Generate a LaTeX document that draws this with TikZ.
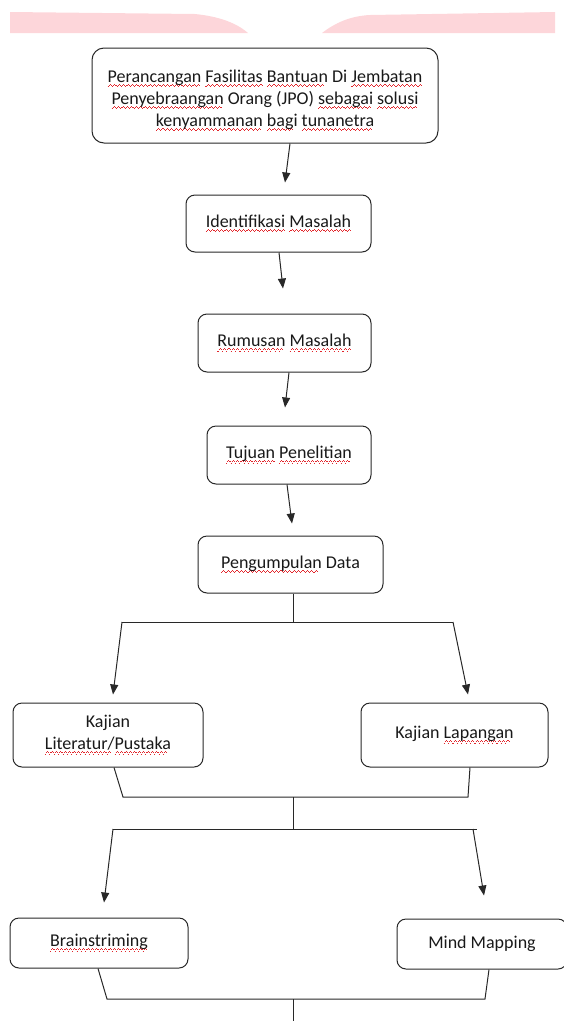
\documentclass[tikz,border=0pt]{standalone}
\usepackage{fontspec}
\setmainfont{Carlito}
\usepackage{xcolor}
\usepackage{tikz}
\usetikzlibrary{shapes, arrows, arrows.meta, positioning}

\definecolor{bandpink}{RGB}{253,214,218}
\definecolor{spellred}{RGB}{226,38,44}
\definecolor{boxline}{RGB}{40,40,40}
% red wavy spell-check underline
\newbox\spellbox
\newcommand{\wavebit}{\rule[-4.6pt]{1.1pt}{1pt}\rule[-3.5pt]{1.1pt}{1pt}\rule[-2.4pt]{1.1pt}{1pt}\rule[-3.5pt]{1.1pt}{1pt}}
\newcommand{\spell}[1]{\setbox\spellbox\hbox{#1}\leavevmode\rlap{\textcolor{spellred}{\hbox to\wd\spellbox{\leaders\hbox{\wavebit}\hfil}}}\box\spellbox}

\begin{document}
\begin{tikzpicture}[x=1pt, y=-1pt, >={Triangle[length=10pt, width=8pt]},
    every node/.style={font=\fontsize{18}{22}\selectfont, text=black!90},
    stage/.style={draw=boxline, line width=1pt, rounded corners=9pt, align=center, inner sep=2pt},
    link/.style={draw=boxline, line width=1pt}]
    \clip (0,0) rectangle (564,1021);
    % Pink band
    \fill[bandpink] (10,12) -- (195,14) .. controls (225,17) and (240,26) .. (248,33) -- (10,33) -- cycle;
    \fill[bandpink] (322,33) .. controls (335,23) and (350,16) .. (370,15) -- (555,12) -- (555,33) -- cycle;
    % Main chain
    \node[stage, rounded corners=12pt, minimum width=346pt, minimum height=95pt] (title) at (265,95.5)
        {\rule{0pt}{23pt}\spell{Perancangan} \spell{Fasilitas} \spell{Bantuan} Di \spell{Jembatan}\\
         \spell{Penyebraangan} Orang (JPO) \spell{sebagai} \spell{solusi}\\
         \spell{kenyammanan} \spell{bagi} \spell{tunanetra}};
    \node[stage, minimum width=185pt, minimum height=57pt, below=51pt of title, xshift=13.5pt] (ident) {\spell{Identifikasi} \spell{Masalah}};
    \node[stage, minimum width=173pt, minimum height=58pt, below=61pt of ident, xshift=6pt] (rumusan) {\spell{Rumusan} \spell{Masalah}};
    \node[stage, minimum width=164pt, minimum height=58pt, below=53pt of rumusan, xshift=4.5pt] (tujuan) {\spell{Tujuan} \spell{Penelitian}};
    \node[stage, minimum width=185pt, minimum height=57pt, below=51pt of tujuan, xshift=1.5pt] (kumpul) {\spell{Pengumpulan} Data};
    % Branches
    \node[stage, minimum width=190pt, minimum height=64pt, below=109pt of kumpul, xshift=-182.5pt] (literatur) {Kajian\\ \spell{Literatur/}\spell{Pustaka}};
    \node[stage, minimum width=187pt, minimum height=64pt, below=109pt of kumpul, xshift=164pt] (lapangan) {Kajian \spell{Lapangan}};
    \node[stage, minimum width=178pt, minimum height=50pt, below=150pt of literatur, xshift=-9pt] (brain) {\spell{Brainstriming}};
    \node[stage, minimum width=170pt, minimum height=50pt, below=151pt of lapangan, xshift=27.5pt] (mind) {Mind Mapping};
    % Arrows
    \draw[link, ->] ([xshift=25pt]title.south) -- ([xshift=6.5pt, yshift=12pt]ident.north);
    \draw[link, ->] ([xshift=0.5pt]ident.south) -- ([xshift=-1.5pt, yshift=25pt]rumusan.north);
    \draw[link, ->] ([xshift=4.5pt]rumusan.south) -- ([xshift=-4pt, yshift=18pt]tujuan.north);
    \draw[link, ->] ([xshift=-2pt]tujuan.south) -- ([xshift=1.5pt, yshift=12pt]kumpul.north);
    % Split and join lines
    \coordinate (splitA) at (293,622);
    \coordinate (splitAL) at (122,622);
    \coordinate (splitAR) at (453,622);
    \coordinate (joinA) at (293,797);
    \coordinate (joinAL) at (123,797);
    \coordinate (joinAR) at (468,797);
    \coordinate (splitB) at (293,829);
    \coordinate (splitBL) at (113,829);
    \coordinate (splitBR) at (477,829);
    \coordinate (joinB) at (293,999);
    \coordinate (joinBL) at (107,999);
    \coordinate (joinBR) at (485,999);
    \coordinate (tail) at (293,1021);
    \draw[link] (kumpul.south -| splitA) -- (splitA);
    \draw[link] (splitAL) -- (splitAR);
    \draw[link, ->] (splitAL) -- ([xshift=5pt, yshift=8pt]literatur.north);
    \draw[link, ->] (splitAR) -- ([xshift=13.5pt, yshift=8pt]lapangan.north);
    \draw[link] ([xshift=6pt]literatur.south) -- (joinAL) -- (joinAR) -- ([xshift=15.5pt]lapangan.south);
    \draw[link] (joinA) -- (splitB);
    \draw[link] (splitBL) -- (splitBR);
    \draw[link, ->] (splitBL) -- ([xshift=5pt, yshift=15pt]brain.north);
    \draw[link, ->] ([xshift=-4pt]splitBR) -- ([xshift=2pt, yshift=23pt]mind.north);
    \draw[link] ([xshift=-1pt]brain.south) -- (joinBL) -- (joinBR) -- ([xshift=7pt]mind.south);
    \draw[link] (joinB) -- (tail);
\end{tikzpicture}
\end{document}
